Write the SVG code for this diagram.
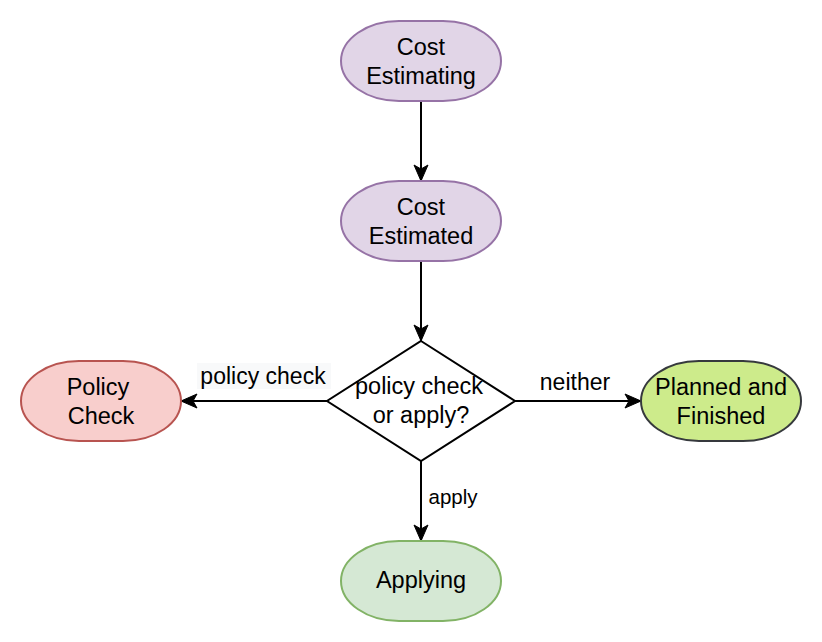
<svg xmlns="http://www.w3.org/2000/svg" width="822" height="642" viewBox="0 0 822 642">
<style>
  text { font-family: "Liberation Sans", Arial, Helvetica, sans-serif; fill: #000; text-anchor: middle; }
  .n { font-size: 23.5px; }
  .lbl { font-size: 23px; }
  .sm { font-size: 20.5px; }
  .purple { fill: #e1d5e7; stroke: #9673a6; stroke-width: 2; }
  .red { fill: #f8cecc; stroke: #b85450; stroke-width: 2; }
  .lime { fill: #cdeb8b; stroke: #36393d; stroke-width: 2; }
  .green { fill: #d5e8d4; stroke: #82b366; stroke-width: 2; }
  .dia { fill: #ffffff; stroke: #000000; stroke-width: 2; }
  .edge { fill: none; stroke: #000000; stroke-width: 2; }
</style>
<defs>
  <marker id="arr" markerUnits="userSpaceOnUse" markerWidth="18" markerHeight="16" refX="16" refY="8" orient="auto" overflow="visible">
    <path d="M0,1 L16,8 L0,15 L4,8 Z" fill="#000" stroke="#000" stroke-width="1"/>
  </marker>
</defs>
<rect width="822" height="642" fill="#ffffff"/>
<g id="connectors">
  <line class="edge" x1="421" y1="101" x2="421" y2="181" marker-end="url(#arr)"/>
  <line class="edge" x1="421" y1="261" x2="421" y2="341" marker-end="url(#arr)"/>
  <line class="edge" x1="327" y1="401" x2="181" y2="401" marker-end="url(#arr)"/>
  <line class="edge" x1="515" y1="401" x2="641" y2="401" marker-end="url(#arr)"/>
  <line class="edge" x1="421" y1="461" x2="421" y2="541" marker-end="url(#arr)"/>
  <rect x="197" y="363" width="134" height="26" fill="#f8f9fa"/>
  <text class="lbl" x="263" y="384">policy check</text>
  <text class="lbl" x="575" y="390">neither</text>
  <text class="sm" x="453" y="504">apply</text>
</g>
<g id="cost-estimating">
  <rect class="purple" x="341" y="21" width="160" height="80" rx="58" ry="40"/>
  <text class="n" x="421" y="55">Cost</text>
  <text class="n" x="421" y="84">Estimating</text>
</g>
<g id="cost-estimated">
  <rect class="purple" x="341" y="181" width="160" height="80" rx="58" ry="40"/>
  <text class="n" x="421" y="215">Cost</text>
  <text class="n" x="421" y="244">Estimated</text>
</g>
<g id="decision">
  <polygon class="dia" points="421,341 515,401 421,461 327,401"/>
  <text class="n" x="419" y="394">policy check</text>
  <text class="n" x="421" y="423">or apply?</text>
</g>
<g id="policy-check">
  <rect class="red" x="21" y="361" width="160" height="80" rx="58" ry="40"/>
  <text class="n" x="98" y="395">Policy</text>
  <text class="n" x="101" y="424">Check</text>
</g>
<g id="planned-finished">
  <rect class="lime" x="641" y="361" width="160" height="80" rx="58" ry="40"/>
  <text class="n" x="721" y="395">Planned and</text>
  <text class="n" x="721" y="424">Finished</text>
</g>
<g id="applying">
  <rect class="green" x="341" y="541" width="160" height="80" rx="58" ry="40"/>
  <text class="n" x="421" y="588">Applying</text>
</g>
</svg>
